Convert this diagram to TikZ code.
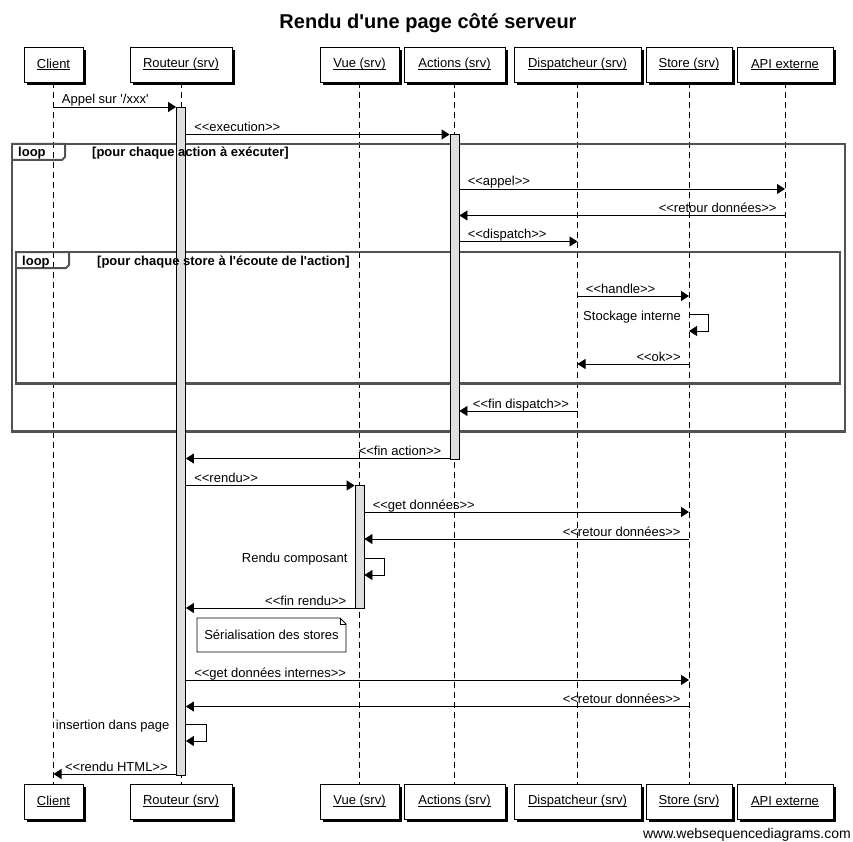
\documentclass[tikz,border=0pt]{standalone}
\usepackage{fontspec}
\setmainfont{Liberation Sans}
\usetikzlibrary{arrows.meta,shadows}
\newcommand\ulname[1]{\setbox0\hbox{#1}\rlap{\rule[-1.6pt]{\wd0}{0.7pt}}\box0}
\begin{document}
\begin{tikzpicture}[x=1pt,y=-1pt,
  font=\fontsize{13}{15}\selectfont,
  part/.style={draw=black, fill=white, line width=0.8pt, minimum height=35pt, inner sep=0pt,
    drop shadow={shadow xshift=3pt, shadow yshift=-3pt, fill=black, opacity=1}},
  lifeline/.style={dash pattern=on 6pt off 4pt, line width=0.8pt},
  act/.style={draw=black, fill=gray!25, line width=0.8pt, minimum width=9pt, inner sep=0pt},
  msg/.style={-{Triangle[length=8pt,width=10pt]}, line width=0.8pt},
  rl/.style={pos=0, anchor=base west, xshift=8pt, yshift=3pt, inner sep=0pt},
  ll/.style={pos=0, anchor=base east, xshift=-8pt, yshift=3pt, inner sep=0pt},
  loopbox/.style={draw=black!68, line width=2.5pt},
  looptab/.style={draw=black!68, line width=2pt},
  looplbl/.style={font=\fontsize{13}{15}\selectfont\bfseries, anchor=base west, inner sep=0pt},
  notebox/.style={draw=black, fill=white, line width=0.8pt}
]
\useasboundingbox (0,0) rectangle (853,842);

% title
\node[font=\fontsize{20}{24}\selectfont\bfseries] (title) at (428,23) {Rendu d\textquotesingle une page côté serveur};

% participants top
\node[part, minimum width=59pt]  (cT) at (53.5,64.5) {\ulname{Client}};
\node[part, minimum width=102pt] (rT) at (181,64.5) {\ulname{Routeur (srv)}};
\node[part, minimum width=79pt]  (vT) at (359.5,64.5) {\ulname{Vue (srv)}};
\node[part, minimum width=101pt] (aT) at (454.5,64.5) {\ulname{Actions (srv)}};
\node[part, minimum width=127pt] (dT) at (577.5,64.5) {\ulname{Dispatcheur (srv)}};
\node[part, minimum width=86pt]  (sT) at (689,64.5) {\ulname{Store (srv)}};
\node[part, minimum width=96pt]  (xT) at (785,64.5) {\ulname{API externe}};
% participants bottom
\node[part, minimum width=59pt]  (cB) at (53.5,801.5) {\ulname{Client}};
\node[part, minimum width=102pt] (rB) at (181,801.5) {\ulname{Routeur (srv)}};
\node[part, minimum width=79pt]  (vB) at (359.5,801.5) {\ulname{Vue (srv)}};
\node[part, minimum width=101pt] (aB) at (454.5,801.5) {\ulname{Actions (srv)}};
\node[part, minimum width=127pt] (dB) at (577.5,801.5) {\ulname{Dispatcheur (srv)}};
\node[part, minimum width=86pt]  (sB) at (689,801.5) {\ulname{Store (srv)}};
\node[part, minimum width=96pt]  (xB) at (785,801.5) {\ulname{API externe}};

% lifelines
\foreach \p in {c,r,v,a,d,s,x}{
  \draw[lifeline] (\p T.south) -- (\p B.north);
}

% loops (frames)
\draw[loopbox] (12,144) rectangle (845,431.5);
\draw[looptab] (12,144) -- (65,144) -- (65,157) -- (62,160) -- (12,160);
\draw[loopbox] (16,252) rectangle (840,383.5);
\draw[looptab] (16,252) -- (69,252) -- (69,265) -- (66,268) -- (16,268);

% activations
\node[act, minimum height=668pt] (aR) at (181,441) {};
\node[act, minimum height=325pt] (aA) at (454.5,296.5) {};
\node[act, minimum height=123pt] (aV) at (359.5,546.5) {};

% loop labels
\node[looplbl] (loop1) at (18,157) {loop};
\node[looplbl] (cond1) at (92,157) {[pour chaque action à exécuter]};
\node[looplbl] (loop2) at (22,265) {loop};
\node[looplbl] (cond2) at (97,265) {[pour chaque store à l\textquotesingle écoute de l\textquotesingle action]};

% messages
\draw[msg] (cT |- 0,107) -- (aR.west |- 0,107) node[rl] {Appel sur \textquotesingle/xxx\textquotesingle};
\draw[msg] (aR.east |- 0,134.5) -- (aA.west |- 0,134.5) node[rl] {<{}<execution>{}>};
\draw[msg] (aA.east |- 0,189) -- (xT |- 0,189) node[rl] {<{}<appel>{}>};
\draw[msg] (xT |- 0,215.5) -- (aA.east |- 0,215.5) node[ll] {<{}<retour données>{}>};
\draw[msg] (aA.east |- 0,241.5) -- (dT |- 0,241.5) node[rl] {<{}<dispatch>{}>};
\draw[msg] (dT |- 0,296) -- (sT |- 0,296) node[rl] {<{}<handle>{}>};
\draw[msg] (sT |- 0,314) -- ++(19,0) -- ++(0,17) -- ++(-19,0);
\node[anchor=base east, inner sep=0pt] (stk) at ([xshift=-8pt, yshift=-6.5pt]sT |- 0,314) {Stockage interne};
\draw[msg] (sT |- 0,364) -- (dT |- 0,364) node[ll] {<{}<ok>{}>};
\draw[msg] (dT |- 0,411) -- (aA.east |- 0,411) node[ll] {<{}<fin dispatch>{}>};
\draw[msg] (aA.west |- 0,458.5) -- (aR.east |- 0,458.5) node[ll] {<{}<fin action>{}>};
\draw[msg] (aR.east |- 0,485.5) -- (aV.west |- 0,485.5) node[rl] {<{}<rendu>{}>};
\draw[msg] (aV.east |- 0,512) -- (sT |- 0,512) node[rl] {<{}<get données>{}>};
\draw[msg] (sT |- 0,539) -- (aV.east |- 0,539) node[ll] {<{}<retour données>{}>};
\draw[msg] (aV.east |- 0,558) -- ++(20,0) -- ++(0,17) -- ++(-20,0);
\node[anchor=base east, inner sep=0pt] (rcp) at ([xshift=-7pt, yshift=-4.5pt]aV.west |- 0,558) {Rendu composant};
\draw[msg] (aV.west |- 0,608) -- (aR.east |- 0,608) node[ll] {<{}<fin rendu>{}>};

% note
\draw[notebox] (197,618) -- (340,618) -- (346,624) -- (346,652) -- (197,652) -- cycle;
\draw[line width=0.8pt] (340,618) -- (340,624) -- (346,624);
\node[inner sep=0pt] (note) at (271.5,635) {Sérialisation des stores};

\draw[msg] (aR.east |- 0,680) -- (sT |- 0,680) node[rl] {<{}<get données internes>{}>};
\draw[msg] (sT |- 0,706.5) -- (aR.east |- 0,706.5) node[ll] {<{}<retour données>{}>};
\draw[msg] (aR.east |- 0,724) -- ++(20,0) -- ++(0,17) -- ++(-20,0);
\node[anchor=base east, inner sep=0pt] (ins) at ([xshift=-6.5pt, yshift=-5.5pt]aR.west |- 0,724) {insertion dans page};
\draw[msg] (aR.west |- 0,774) -- (cT |- 0,774) node[ll] {<{}<rendu HTML>{}>};

% watermark
\node[font=\fontsize{14}{16}\selectfont, anchor=base east, inner sep=0pt] (wm) at (851,838) {www.websequencediagrams.com};
\end{tikzpicture}
\end{document}
